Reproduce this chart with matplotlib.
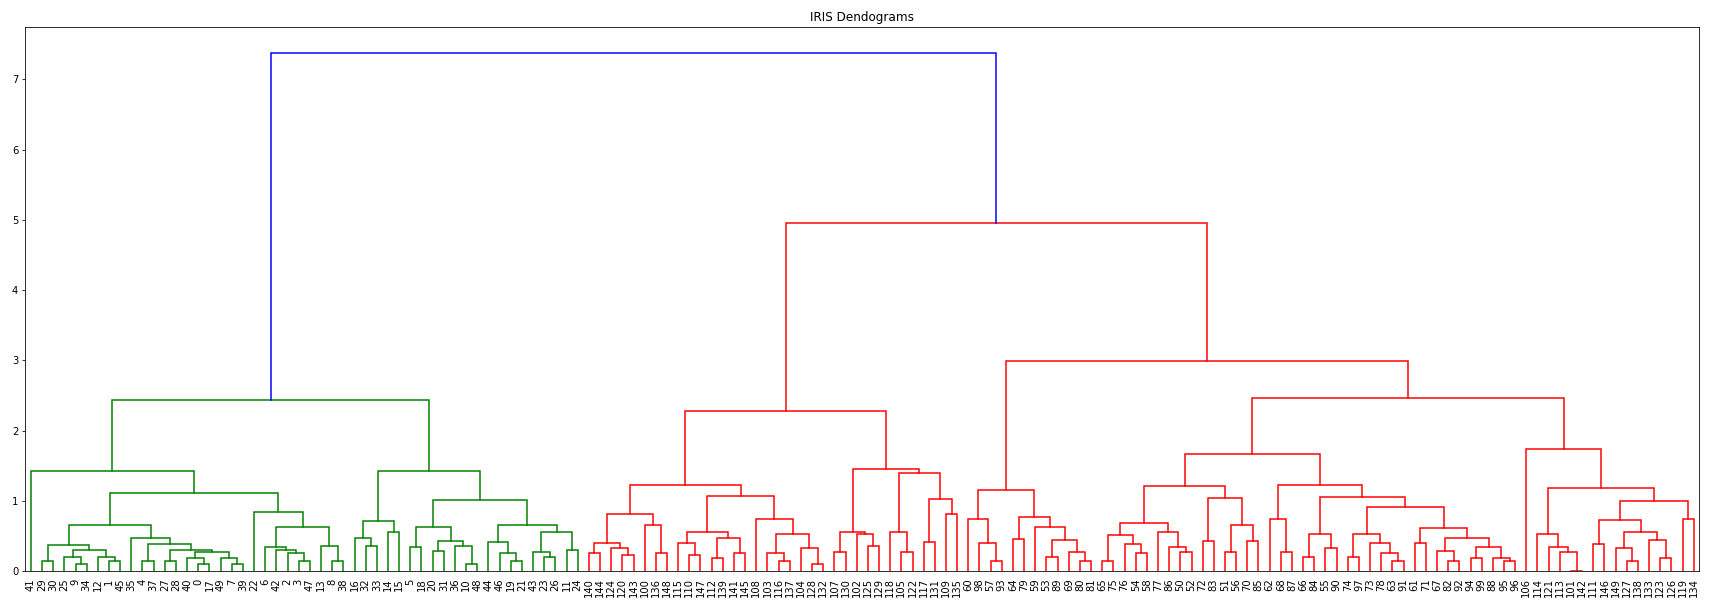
import matplotlib
matplotlib.use("Agg")
import matplotlib.pyplot as plt
import numpy as np

# ---------------- data ----------------
title = "IRIS Dendograms"

setosa_leaves = [41, 29, 30, 25, 9, 34, 12, 1, 45, 35, 4, 37, 27, 28, 40, 0, 17, 49, 7, 39,
                 22, 6, 42, 2, 3, 47, 13, 8, 38, 16, 32, 33, 14, 15, 5, 18, 20, 31, 36, 10,
                 48, 44, 46, 19, 21, 43, 23, 26, 11, 24]
right_leaves = [140, 144, 124, 120, 143, 100, 136, 148, 115, 110, 147, 112, 139, 141, 145, 108,
                103, 116, 137, 104, 128, 132, 107, 130, 102, 125, 129, 118, 105, 122, 117, 131,
                109, 135, 60, 98, 57, 93, 64, 79, 59, 53, 89, 69, 80, 81, 65, 75, 76, 54, 58,
                77, 86, 50, 52, 72, 83, 51, 56, 70, 85, 62, 68, 87, 66, 84, 55, 90, 74, 97, 73,
                78, 63, 91, 61, 71, 67, 82, 92, 94, 99, 88, 95, 96, 106, 114, 121, 113, 101,
                142, 111, 146, 149, 127, 138, 133, 123, 126, 119, 134]

# merge height between each pair of neighbouring leaves (height of their common link)
setosa_gaps = [1.42, 0.15, 0.38, 0.21, 0.11, 0.30, 0.21, 0.15, 0.66, 0.48,
               0.15, 0.39, 0.15, 0.30, 0.19, 0.11, 0.27, 0.19, 0.11, 1.12,
               0.85, 0.35, 0.30, 0.265, 0.15, 0.635, 0.365, 0.15, 2.43, 0.48,
               0.365, 0.71, 0.56, 1.43, 0.35, 0.625, 0.29, 0.435, 0.365, 0.11,
               1.02, 0.42, 0.26, 0.15, 0.66, 0.28, 0.20, 0.56, 0.31]
top_gap = [7.37]
right_gaps = [0.26, 0.407, 0.336, 0.237, 0.815, 0.658, 0.26, 1.227, 0.407, 0.237,
              0.559, 0.19, 0.478, 0.26, 1.075, 0.748, 0.26, 0.152, 0.53, 0.336,
              0.109, 2.28, 0.28, 0.564, 0.535, 0.365, 1.46, 0.564, 0.28, 1.402,
              0.42, 1.023, 0.82, 4.95, 0.739, 0.407, 0.152, 1.151, 0.46, 0.777,
              0.635, 0.204, 0.45, 0.275, 0.152, 2.99, 0.152, 0.521, 0.393, 0.26,
              0.692, 0.564, 0.35, 0.275, 1.213, 0.436, 1.047, 0.275, 0.658, 0.436,
              1.672, 0.748, 0.275, 1.232, 0.204, 0.53, 0.332, 1.061, 0.204, 0.53,
              0.403, 0.26, 0.152, 0.919, 0.403, 0.62, 0.294, 0.152, 0.478, 0.19,
              0.35, 0.19, 0.152, 2.47, 1.739, 0.53, 0.35, 0.275, 0.0, 1.184,
              0.393, 0.734, 0.336, 0.152, 0.564, 0.45, 0.19, 1.004, 0.748]

cluster_colors = ['g', 'r', 'c', 'm', 'y', 'k']
above_color = 'b'

# ---------------- drawing ----------------
leaf_labels = setosa_leaves + right_leaves
gaps = setosa_gaps + top_gap + right_gaps

W, H, DPI = 1716, 605, 72
fig = plt.figure(figsize=(W / DPI, H / DPI), dpi=DPI)
ax_l, ax_r, ax_t, ax_b = 25.3, 1699.3, 27.3, 571.3
ax = fig.add_axes([ax_l / W, 1 - ax_b / H, (ax_r - ax_l) / W, (ax_b - ax_t) / H])

n = len(leaf_labels)
leaf_x = 5 + 10 * np.arange(n)
thr = 0.7 * max(gaps)
links = []
color_iter = iter(cluster_colors)


def build(lo, hi, color):
    if lo == hi:
        return leaf_x[lo], 0.0
    k = lo + int(np.argmax(gaps[lo:hi]))
    h = gaps[k]
    if h >= thr:
        c = above_color
        child_color = None
    else:
        c = color if color is not None else next(color_iter)
        child_color = c
    xl, yl = build(lo, k, child_color)
    xr, yr = build(k + 1, hi, child_color)
    links.append(([xl, xl, xr, xr], [yl, h, h, yr], c))
    return (xl + xr) / 2.0, h


build(0, n - 1, None)
for xs, ys, c in links:
    ax.plot(xs, ys, color=c, lw=1.5, solid_joinstyle='miter')

ax.set_xlim(0, 10 * n)
ax.set_ylim(0, 1.05 * max(gaps))
ax.set_xticks(leaf_x)
ax.set_xticklabels([str(v) for v in leaf_labels], rotation=90, fontsize=10)
for line in ax.get_xticklines():
    line.set_visible(False)
ax.set_title(title, fontsize=12)

fig.savefig("out.png", dpi=DPI)
